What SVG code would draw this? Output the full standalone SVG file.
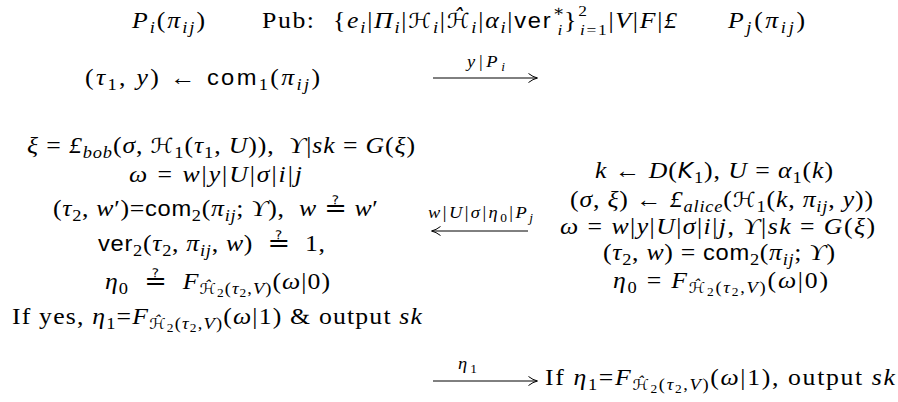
<svg xmlns="http://www.w3.org/2000/svg" width="898" height="402" viewBox="0 0 898 402">
<style>
text{font-family:"Liberation Serif","DejaVu Serif",serif;font-size:23px;fill:#000}
.w{transform:scale(1.12,1)}
.i{font-style:italic}
.b{font-size:16.5px;baseline-shift:-5px}
.p2{font-size:15.5px;baseline-shift:12.5px}
.b2{font-size:15.5px;baseline-shift:-7px}
.bb{font-size:12px;baseline-shift:-3.5px}
.sf{font-family:"Liberation Sans","DejaVu Sans",sans-serif;font-style:normal;font-size:0.92em}
.c{font-family:"DejaVu Sans",sans-serif;font-style:italic;font-size:0.9em}
.q{font-family:"DejaVu Sans",sans-serif;font-size:1.05em}
.lb{font-size:16.5px}
.ln{stroke:#000;stroke-width:1;fill:none}
</style>
<defs>
<marker id="ah" markerWidth="12" markerHeight="12" refX="10" refY="6" orient="auto" markerUnits="userSpaceOnUse" viewBox="0 0 12 12">
<path d="M1.5,1.5 Q6,5 10.5,6 Q6,7 1.5,10.5" fill="none" stroke="#000" stroke-width="1"/>
</marker>
</defs>

<g id="header">
<text class="w" x="117.86" y="28" textLength="65.18"><tspan class="i">P</tspan><tspan class="b i">i</tspan>(<tspan class="i">π</tspan><tspan class="b i">ij</tspan>)</text>
<text class="w" x="233.93" y="28" textLength="46.43">Pub:</text>
<text class="w" x="297.32" y="28" textLength="307.14">{<tspan class="i">e</tspan><tspan class="b i">i</tspan>|<tspan class="i">Π</tspan><tspan class="b i">i</tspan>|<tspan class="c">ℋ</tspan><tspan class="b i">i</tspan>|<tspan class="c">ℋ̂</tspan><tspan class="b i">i</tspan>|<tspan class="i">α</tspan><tspan class="b i">i</tspan>|<tspan class="sf">ver</tspan><tspan class="p2">∗</tspan><tspan class="b2 i" dx="-7.5">i</tspan>}<tspan class="p2">2</tspan><tspan class="b2" dx="-7.8"><tspan class="i">i</tspan>=1</tspan>|<tspan class="i">V</tspan>|<tspan class="i">F</tspan>|<tspan class="i">£</tspan></text>
<text class="w" x="650" y="28" textLength="68.75"><tspan class="i">P</tspan><tspan class="b i">j</tspan>(<tspan class="i">π</tspan><tspan class="b i">ij</tspan>)</text>
</g>

<g id="pi-step1">
<text class="w" x="75.89" y="85" textLength="209.82">(<tspan class="i">τ</tspan><tspan class="b">1</tspan>, <tspan class="i">y</tspan>) ← <tspan class="sf">com</tspan><tspan class="b">1</tspan>(<tspan class="i">π</tspan><tspan class="b i">ij</tspan>)</text>
</g>

<g id="pi-step2">
<text class="w" x="24.11" y="153" textLength="346.43"><tspan class="i">ξ</tspan> = <tspan class="i">£</tspan><tspan class="b i">bob</tspan>(<tspan class="i">σ</tspan>, <tspan class="c">ℋ</tspan><tspan class="b">1</tspan>(<tspan class="i">τ</tspan><tspan class="b">1</tspan>, <tspan class="i">U</tspan>)),&#160;&#160;<tspan class="i">ϒ</tspan>|<tspan class="i">sk</tspan> = <tspan class="i">G</tspan>(<tspan class="i">ξ</tspan>)</text>
<text class="w" x="115.18" y="182" textLength="154.46"><tspan class="i">ω</tspan> = <tspan class="i">w</tspan>|<tspan class="i">y</tspan>|<tspan class="i">U</tspan>|<tspan class="i">σ</tspan>|<tspan class="i">i</tspan>|<tspan class="i">j</tspan></text>
<text class="w" x="47.32" y="216" textLength="290.18">(<tspan class="i">τ</tspan><tspan class="b">2</tspan>, <tspan class="i">w</tspan>′)=<tspan class="sf">com</tspan><tspan class="b">2</tspan>(<tspan class="i">π</tspan><tspan class="b i">ij</tspan>; <tspan class="i">ϒ</tspan>),&#160;&#160;<tspan class="i">w</tspan> <tspan class="q">≟</tspan> <tspan class="i">w</tspan>′</text>
<text class="w" x="87.5" y="251" textLength="202.68"><tspan class="sf">ver</tspan><tspan class="b">2</tspan>(<tspan class="i">τ</tspan><tspan class="b">2</tspan>, <tspan class="i">π</tspan><tspan class="b i">ij</tspan>, <tspan class="i">w</tspan>)&#160;&#160;<tspan class="q">≟</tspan>&#160;&#160;1,</text>
<text class="w" x="93.75" y="289" textLength="200.89"><tspan class="i">η</tspan><tspan class="b">0</tspan>&#160;&#160;<tspan class="q">≟</tspan>&#160;&#160;<tspan class="i">F</tspan><tspan class="b"><tspan class="c">ℋ̂</tspan><tspan class="bb">2</tspan>(<tspan class="i">τ</tspan><tspan class="bb">2</tspan>,<tspan class="i">V</tspan>)</tspan>(<tspan class="i">ω</tspan>|0)</text>
<text class="w" x="10.71" y="324" textLength="366.07">If yes, <tspan class="i">η</tspan><tspan class="b">1</tspan>=<tspan class="i">F</tspan><tspan class="b"><tspan class="c">ℋ̂</tspan><tspan class="bb">2</tspan>(<tspan class="i">τ</tspan><tspan class="bb">2</tspan>,<tspan class="i">V</tspan>)</tspan>(<tspan class="i">ω</tspan>|1) &amp; output <tspan class="i">sk</tspan></text>
</g>

<g id="pj-step1">
<text class="w" x="531.25" y="178.5" textLength="212.5"><tspan class="i">k</tspan> ← <tspan class="i">D</tspan>(<tspan class="c">K</tspan><tspan class="b">1</tspan>), <tspan class="i">U</tspan> = <tspan class="i">α</tspan><tspan class="b">1</tspan>(<tspan class="i">k</tspan>)</text>
<text class="w" x="508.93" y="207" textLength="270.54">(<tspan class="i">σ</tspan>, <tspan class="i">ξ</tspan>) ← <tspan class="i">£</tspan><tspan class="b i">alice</tspan>(<tspan class="c">ℋ</tspan><tspan class="b">1</tspan>(<tspan class="i">k</tspan>, <tspan class="i">π</tspan><tspan class="b i">ij</tspan>, <tspan class="i">y</tspan>))</text>
<text class="w" x="500" y="234" textLength="281.25"><tspan class="i">ω</tspan> = <tspan class="i">w</tspan>|<tspan class="i">y</tspan>|<tspan class="i">U</tspan>|<tspan class="i">σ</tspan>|<tspan class="i">i</tspan>|<tspan class="i">j</tspan>, <tspan class="i">ϒ</tspan>|<tspan class="i">sk</tspan> = <tspan class="i">G</tspan>(<tspan class="i">ξ</tspan>)</text>
<text class="w" x="538.39" y="260" textLength="207.14">(<tspan class="i">τ</tspan><tspan class="b">2</tspan>, <tspan class="i">w</tspan>) = <tspan class="sf">com</tspan><tspan class="b">2</tspan>(<tspan class="i">π</tspan><tspan class="b i">ij</tspan>; <tspan class="i">ϒ</tspan>)</text>
<text class="w" x="547.32" y="288" textLength="191.96"><tspan class="i">η</tspan><tspan class="b">0</tspan> = <tspan class="i">F</tspan><tspan class="b"><tspan class="c">ℋ̂</tspan><tspan class="bb">2</tspan>(<tspan class="i">τ</tspan><tspan class="bb">2</tspan>,<tspan class="i">V</tspan>)</tspan>(<tspan class="i">ω</tspan>|0)</text>
</g>

<g id="pj-step2">
<text class="w" x="486.6" y="385" textLength="312.5">If <tspan class="i">η</tspan><tspan class="b">1</tspan>=<tspan class="i">F</tspan><tspan class="b"><tspan class="c">ℋ̂</tspan><tspan class="bb">2</tspan>(<tspan class="i">τ</tspan><tspan class="bb">2</tspan>,<tspan class="i">V</tspan>)</tspan>(<tspan class="i">ω</tspan>|1), output <tspan class="i">sk</tspan></text>
</g>

<g id="connectors">
<line class="ln" x1="433" y1="78" x2="537" y2="78" marker-end="url(#ah)"/>
<text class="lb w" x="416.96" y="67" textLength="33.93"><tspan class="i">y</tspan>|<tspan class="i">P</tspan><tspan class="bb i">i</tspan></text>
<line class="ln" x1="528" y1="231" x2="432" y2="231" marker-end="url(#ah)"/>
<text class="lb w" x="382.14" y="218" textLength="93.75"><tspan class="i">w</tspan>|<tspan class="i">U</tspan>|<tspan class="i">σ</tspan>|<tspan class="i">η</tspan><tspan class="bb">0</tspan>|<tspan class="i">P</tspan><tspan class="bb i">j</tspan></text>
<line class="ln" x1="433" y1="381" x2="537" y2="381" marker-end="url(#ah)"/>
<text class="lb w" x="408.93" y="369" textLength="16.96"><tspan class="i">η</tspan><tspan class="bb">1</tspan></text>
</g>
</svg>
